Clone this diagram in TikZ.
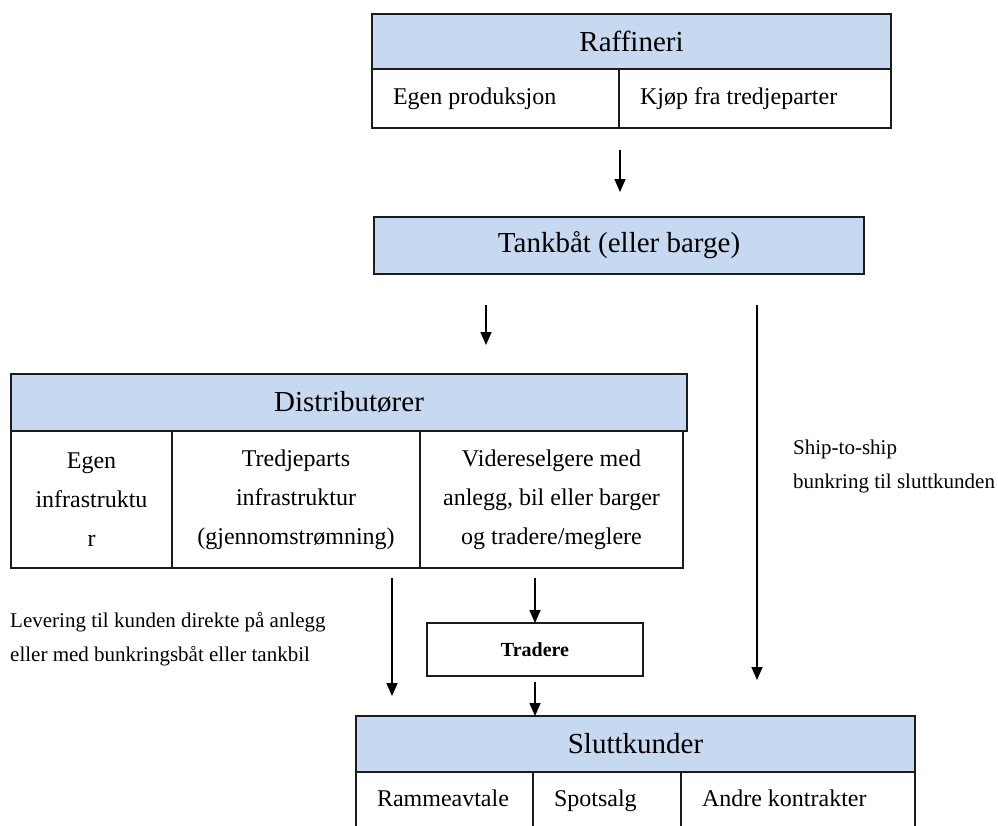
\documentclass[tikz,border=0pt]{standalone}
\usepackage{fontspec}
\setmainfont{Liberation Serif}
\usetikzlibrary{arrows.meta,calc}
\definecolor{hdrblue}{RGB}{198,217,240}
\definecolor{linecol}{RGB}{28,28,28}
\begin{document}
\begin{tikzpicture}[x=1pt,y=-1pt,
  box/.style={draw=linecol,line width=1.6pt,inner sep=0pt,outer sep=0pt,anchor=north west},
  hdr/.style={box,fill=hdrblue,font=\fontsize{29}{34}\selectfont},
  cellc/.style={box,align=center,font=\fontsize{24}{39}\selectfont},
  celll/.style={box,align=flush left,font=\fontsize{24}{29}\selectfont,inner xsep=21pt,execute at begin node=\strut},
  trbox/.style={box,font=\bfseries\fontsize{20}{24}\selectfont},
  arr/.style={draw=black,line width=1.6pt,-{Triangle[length=13pt,width=11pt]}},
  lbl/.style={anchor=west,align=left,inner sep=0pt,font=\fontsize{21}{34}\selectfont}]
\useasboundingbox (0,0) rectangle (998,825);
\clip (0,0) rectangle (998,825);

% Raffineri
\node[hdr,minimum width=519pt,minimum height=55pt] (raf) at (372,14) {Raffineri};
\node[celll,text width=205pt,minimum height=59pt] (raf1) at (372,69) {Egen produksjon};
\node[celll,text width=230pt,minimum height=59pt] (raf2) at (619,69) {Kjøp fra tredjeparter};

% Tankbåt
\node[hdr,minimum width=490pt,minimum height=57pt] (tank) at (374,217) {Tankbåt (eller barge)};

% Distributører
\node[hdr,minimum width=676pt,minimum height=57pt] (dist) at (11,374) {Distributører};
\node[cellc,minimum width=161pt,minimum height=137pt] (dist1) at (11,431) {Egen\\infrastruktu\\r};
\node[cellc,minimum width=248pt,minimum height=137pt] (dist2) at (172,431) {Tredjeparts\\infrastruktur\\(gjennomstrømning)};
\node[cellc,minimum width=263pt,minimum height=137pt] (dist3) at (420,431) {Videreselgere med\\anlegg, bil eller barger\\og tradere/meglere};

% Tradere
\node[trbox,minimum width=216pt,minimum height=53pt] (trad) at (427,623) {Tradere};

% Sluttkunder
\node[hdr,minimum width=559pt,minimum height=56pt] (slut) at (356,716) {Sluttkunder};
\node[celll,text width=135pt,minimum height=58pt] (slut1) at (356,772) {Rammeavtale};
\node[celll,text width=106pt,minimum height=58pt] (slut2) at (533,772) {Spotsalg};
\node[celll,text width=192pt,minimum height=58pt] (slut3) at (681,772) {Andre kontrakter};

% labels
\node[lbl] (ship) at (793,466) {Ship-to-ship\\bunkring til sluttkunden};
\node[lbl] (lev) at (10,639) {Levering til kunden direkte på anlegg\\eller med bunkringsbåt eller tankbil};

% arrows
\draw[arr] ($(raf1.south east)+(1,22)$) -- ($(tank.north -| raf1.south east)+(1,-25)$);
\draw[arr] ($(tank.south west)+(112,31)$) -- ($(dist.north west)+(475,-29)$);
\draw[arr] ($(tank.south west)+(383,31)$) -- ($(slut.north west)+(401,-36)$);
\draw[arr] ($(dist2.south west)+(220,10)$) -- ($(slut.north west)+(36,-20)$);
\draw[arr] ($(dist3.south west)+(115,10)$) -- (trad.north);
\draw[arr] ($(trad.south)+(0,6)$) -- (slut.north -| trad.south);
\end{tikzpicture}
\end{document}
